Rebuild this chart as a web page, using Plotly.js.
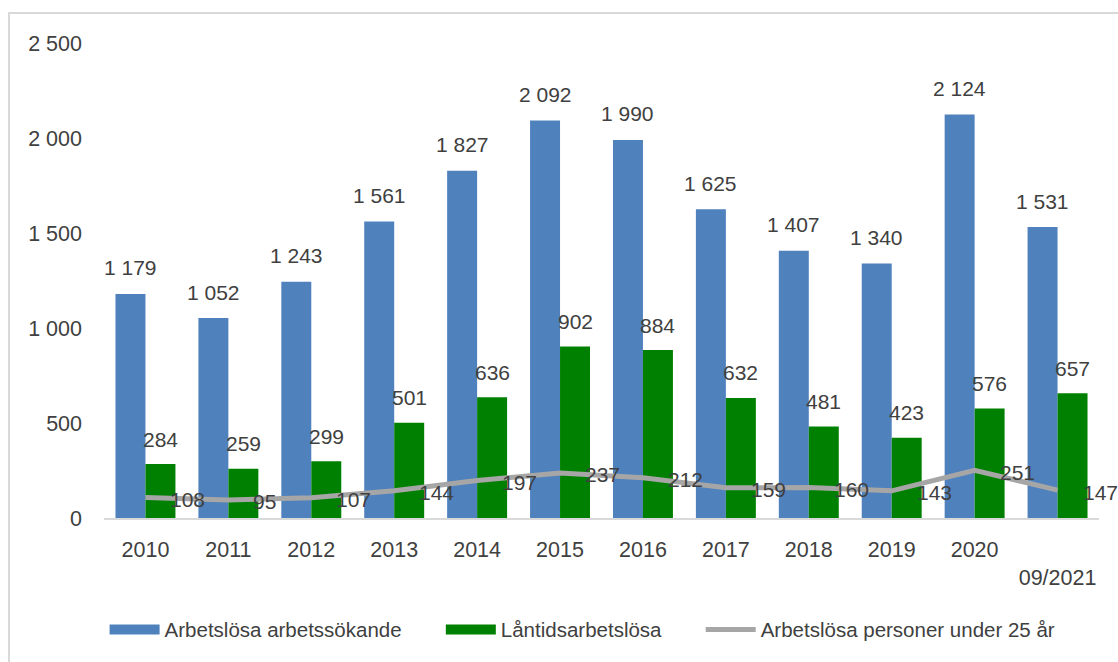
<!DOCTYPE html>
<html>
<head>
<meta charset="utf-8">
<script src="https://cdn.plot.ly/plotly-3.0.1.min.js"></script>
<style>
  html, body { margin: 0; padding: 0; overflow: hidden; background: #fff; }
  #chart { width: 1118px; height: 662px; }
  #frame { position: absolute; left: 8px; top: 12px; width: 1300px; height: 900px;
           border: 2px solid #d9d9d9; pointer-events: none; }
</style>
</head>
<body>
<div id="chart"></div>
<div id="frame"></div>
<script>
const categories = ["2010","2011","2012","2013","2014","2015","2016","2017","2018","2019","2020","09/2021"];
const tickLabels = ["2010","2011","2012","2013","2014","2015","2016","2017","2018","2019","2020","<br>09/2021"];
const arbetslosa = [1179,1052,1243,1561,1827,2092,1990,1625,1407,1340,2124,1531];
const langtids = [284,259,299,501,636,902,884,632,481,423,576,657];
const unga = [108,95,107,144,197,237,212,159,160,143,251,147];

const seriesNames = ["Arbetslösa arbetssökande","Låntidsarbetslösa","Arbetslösa personer under 25 år"];
const BLUE = "#4f81bd", GREEN = "#008000", GRAY = "#a6a6a6", TXT = "#404040";
const FONT = "Liberation Sans, Arial, sans-serif";
const PAD = "\u00a0\u00a0\u00a0\u00a0\u00a0\u00a0";

function fmt(v) { return String(v).replace(/\B(?=(\d{3})+(?!\d))/g, " "); }

const traces = [
  { type: "bar", x: categories, y: arbetslosa, name: seriesNames[0], marker: { color: BLUE }, showlegend: false, hoverinfo: "y" },
  { type: "bar", x: categories, y: langtids, name: seriesNames[1], marker: { color: GREEN }, showlegend: false, hoverinfo: "y" },
  { type: "scatter", mode: "lines", x: categories, y: unga, name: seriesNames[2], line: { color: GRAY, width: 5 }, showlegend: false, hoverinfo: "y" },
  // legend-only entries (no visible data)
  { type: "scatter", mode: "lines", x: [categories[0]], y: [null], name: seriesNames[0] + PAD, line: { color: BLUE, width: 13 } },
  { type: "scatter", mode: "lines", x: [categories[0]], y: [null], name: seriesNames[1] + PAD, line: { color: GREEN, width: 13 } },
  { type: "scatter", mode: "lines", x: [categories[0]], y: [null], name: seriesNames[2], line: { color: GRAY, width: 5 } }
];

const annotations = [];
categories.forEach((c, i) => {
  annotations.push({ x: i, y: arbetslosa[i], text: fmt(arbetslosa[i]), showarrow: false, xshift: -15, yshift: 26, yanchor: "middle", xanchor: "center", font: { size: 21, color: TXT, family: FONT } });
  annotations.push({ x: i, y: langtids[i], text: fmt(langtids[i]), showarrow: false, xshift: 15, yshift: 25, yanchor: "middle", xanchor: "center", font: { size: 21, color: TXT, family: FONT } });
  annotations.push({ x: i, y: unga[i], text: fmt(unga[i]), showarrow: false, xshift: 23, yshift: -2, yanchor: "middle", xanchor: "left", font: { size: 21, color: TXT, family: FONT } });
});

const layout = {
  width: 1118, height: 662,
  margin: { l: 103.5, r: 18.5, t: 43, b: 142, pad: 0 },
  paper_bgcolor: "rgba(0,0,0,0)", plot_bgcolor: "rgba(0,0,0,0)",
  separators: ", ",
  font: { family: FONT, color: TXT, size: 21 },
  barmode: "group", bargap: 0.277, bargroupgap: 0,
  xaxis: {
    type: "category", categoryorder: "array", categoryarray: categories,
    tickvals: categories, ticktext: tickLabels, range: [-0.5, 11.5],
    showgrid: false, zeroline: false, showline: true, linecolor: "#d9d9d9", linewidth: 2,
    ticks: "", tickangle: 0, ticklabelstandoff: 11, tickfont: { size: 21.5, color: TXT, family: FONT }
  },
  yaxis: {
    range: [0, 2500], tickvals: [0, 500, 1000, 1500, 2000, 2500], tickformat: ",d",
    showgrid: false, zeroline: false, showline: false, ticks: "",
    ticklabelstandoff: 21, tickfont: { size: 21.5, color: TXT, family: FONT }
  },
  showlegend: true,
  legend: {
    orientation: "h", x: 0.481, xanchor: "center", y: -0.235, yanchor: "middle",
    itemwidth: 50, font: { size: 20.5, color: TXT, family: FONT }, traceorder: "normal"
  },
  annotations: annotations
};

Plotly.newPlot("chart", traces, layout, { staticPlot: true, displayModeBar: false });
</script>
</body>
</html>
